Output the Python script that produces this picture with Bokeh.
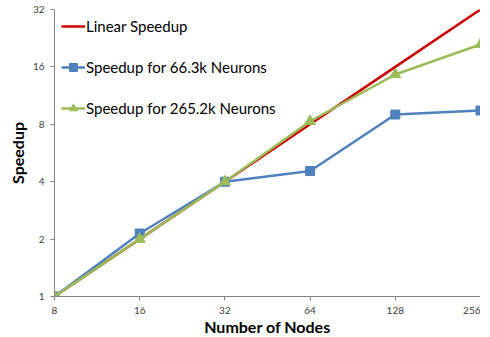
from bokeh.plotting import figure
from bokeh.models import FixedTicker, Legend
from bokeh.embed import file_html
from bokeh.resources import INLINE

nodes = [8, 16, 32, 64, 128, 256]
linear = [1, 2, 4, 8, 16, 32]
speed_66k = [1, 2.14, 4.0, 4.55, 9.0, 9.45]
speed_265k = [1, 2.0, 4.0, 8.3, 14.6, 21.0]
x_tick_labels = ["8", "16", "32", "64", "128", "256"]
y_ticks = [1, 2, 4, 8, 16, 32]
y_tick_labels = ["1", "2", "4", "8", "16", "32"]

FONT = "Lato"

p = figure(frame_width=426, frame_height=287, x_axis_type="log", y_axis_type="log",
           x_range=(8, 256), y_range=(1, 32),
           output_backend="svg", toolbar_location=None,
           min_border_left=54, min_border_right=0, min_border_top=9, min_border_bottom=0)
p.outline_line_color = None
p.grid.grid_line_color = None
p.background_fill_color = "white"

red = "#CC0000"
blue = "#4F81BD"
green = "#9BBB59"

r1 = p.line(nodes, linear, color=red, line_width=2.5)
r2a = p.line(nodes, speed_66k, color=blue, line_width=2.5)
r2b = p.scatter(nodes, speed_66k, marker="square", size=9, color=blue)
r3a = p.line(nodes, speed_265k, color=green, line_width=2.5)
r3b = p.scatter(nodes, speed_265k, marker="triangle", size=11, color=green)

legend = Legend(items=[("Linear Speedup", [r1]),
                       ("Speedup for 66.3k Neurons", [r2a, r2b]),
                       ("Speedup for 265.2k Neurons", [r3a, r3b])],
                location="top_left")
legend.border_line_color = None
legend.background_fill_alpha = 0
legend.margin = 7
legend.padding = 6
legend.spacing = 21
legend.glyph_width = 24
legend.glyph_height = 20
legend.label_height = 20
legend.label_standoff = 1
legend.label_text_font = FONT
legend.label_text_font_size = "15px"
legend.label_text_color = "#000000"
p.add_layout(legend)

p.xaxis.ticker = FixedTicker(ticks=nodes)
p.xaxis.major_label_overrides = {n: l for n, l in zip(nodes, x_tick_labels)}
p.yaxis.ticker = FixedTicker(ticks=y_ticks)
p.yaxis.major_label_overrides = {n: l for n, l in zip(y_ticks, y_tick_labels)}

for ax in (p.xaxis, p.yaxis):
    ax.axis_line_color = "#868686"
    ax.major_tick_line_color = "#868686"
    ax.minor_tick_line_color = None
    ax.major_tick_in = 0
    ax.major_tick_out = 4
    ax.major_label_text_font = FONT
    ax.major_label_text_font_size = "10px"
    ax.major_label_text_color = "#404040"
    ax.axis_label_text_font = FONT
    ax.axis_label_text_font_style = "bold"
    ax.axis_label_text_font_size = "16px"
    ax.axis_label_text_color = "#000000"

p.xaxis.axis_label = "Number of Nodes"
p.yaxis.axis_label = "Speedup"
p.xaxis.major_label_standoff = 6
p.yaxis.major_label_standoff = 6
p.xaxis.axis_label_standoff = 0
p.yaxis.axis_label_standoff = 3

open("out.html", "w").write(file_html(p, INLINE))
